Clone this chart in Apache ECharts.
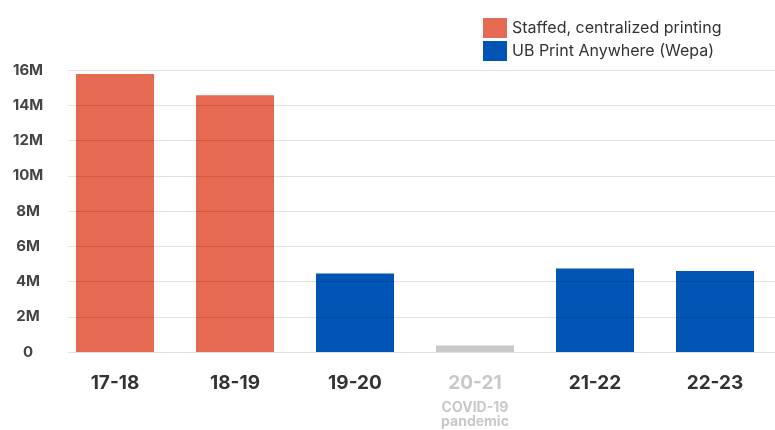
<!DOCTYPE html>
<html>
<head>
<meta charset="utf-8">
<script src="https://cdn.jsdelivr.net/npm/echarts@6/dist/echarts.min.js"></script>
<style>html,body{margin:0;padding:0;background:#fff;}#c{width:775px;height:430px;}</style>
</head>
<body>
<div id="c"></div>
<script>
const categories = ['17-18', '18-19', '19-20', '20-21', '21-22', '22-23'];
const staffed = [15.77, 14.57, null, null, null, null];
const wepa = [null, null, 4.46, 0.37, 4.74, 4.59];
const covidIndex = 3;
const covidNote = ['COVID-19', 'pandemic'];
const yTicks = [0, 2, 4, 6, 8, 10, 12, 14, 16];

const FONT = 'Inter';
const chart = echarts.init(document.getElementById('c'));
chart.setOption({
  animation: false,
  textStyle: { fontFamily: FONT },
  legend: {
    orient: 'vertical', left: 478, top: 13, itemWidth: 24, itemHeight: 20, itemGap: 3,
    icon: 'rect',
    textStyle: { fontSize: 16, color: '#333', fontFamily: FONT },
    data: ['Staffed, centralized printing', 'UB Print Anywhere (Wepa)']
  },
  grid: [
    { left: 68, right: 0, top: 70, bottom: 78 },
    { left: 55, right: 0, top: 70, bottom: 78 }
  ],
  xAxis: [
    { gridIndex: 0, type: 'category', data: categories, show: false },
    {
      gridIndex: 1, type: 'category', data: categories,
      axisLine: { show: false }, axisTick: { show: false },
      axisLabel: {
        margin: 14, interval: 0,
        formatter: function (v, i) {
          if (i === covidIndex) return '{c|' + v + '}\n' + covidNote.map(s => '{s|' + s + '}').join('\n');
          return '{g|' + v + '}';
        },
        rich: {
          g: { fontSize: 19, fontWeight: 'bold', color: '#333', lineHeight: 34, fontFamily: FONT },
          c: { fontSize: 19, fontWeight: 'bold', color: '#c8c8c8', lineHeight: 35, fontFamily: FONT },
          s: { fontSize: 14, fontWeight: 'bold', color: '#c8c8c8', lineHeight: 14, fontFamily: FONT }
        }
      }
    }
  ],
  yAxis: [
    {
      gridIndex: 0, type: 'value', min: yTicks[0], max: yTicks[yTicks.length - 1], interval: 2, z: 5,
      axisLine: { show: false }, axisTick: { show: false },
      splitLine: { lineStyle: { color: 'rgba(0,0,0,0.11)', width: 1 } },
      axisLabel: {
        margin: 40, align: 'center', fontSize: 15, fontWeight: 'bold', color: '#444', fontFamily: FONT,
        formatter: v => v === 0 ? '0' : v + 'M'
      }
    },
    { gridIndex: 1, type: 'value', min: yTicks[0], max: yTicks[yTicks.length - 1], interval: 2, show: false }
  ],
  series: [
    {
      name: 'Staffed, centralized printing', type: 'bar', stack: 't', xAxisIndex: 1, yAxisIndex: 1,
      barWidth: 78, data: staffed, itemStyle: { color: '#E66A51' }
    },
    {
      name: 'UB Print Anywhere (Wepa)', type: 'bar', stack: 't', xAxisIndex: 1, yAxisIndex: 1,
      barWidth: 78, itemStyle: { color: '#0054B4' },
      data: wepa.map((v, i) => i === covidIndex ? { value: v, itemStyle: { color: '#c8c8c8' } } : v)
    }
  ]
});
</script>
</body>
</html>
